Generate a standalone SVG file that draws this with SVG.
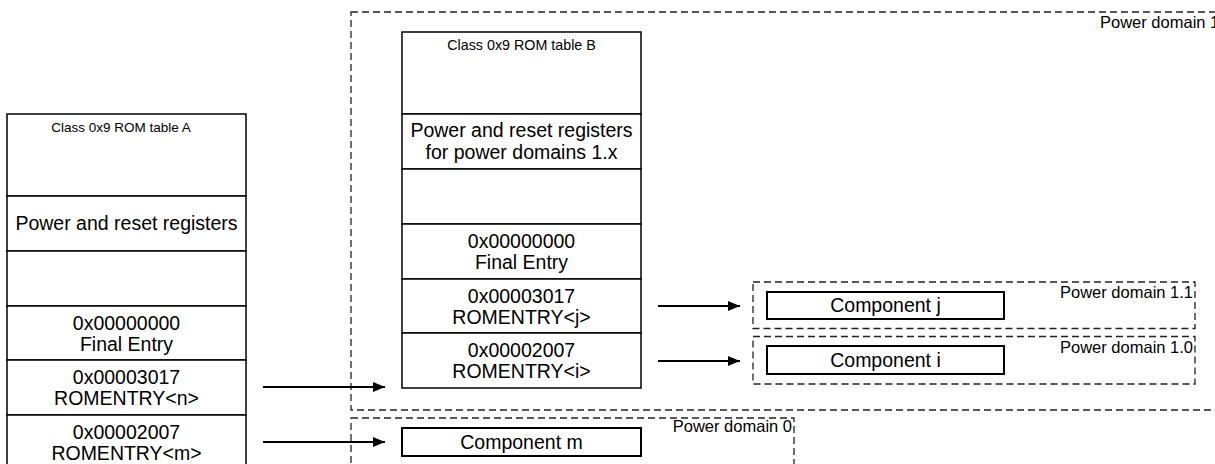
<svg xmlns="http://www.w3.org/2000/svg" width="1215" height="464" viewBox="0 0 1215 464">
<defs>
<style>
.cell{fill:#fff;stroke:#000;stroke-width:1.5}
.comp{fill:#fff;stroke:#000;stroke-width:2}
.dom{fill:none;stroke:#222;stroke-width:1.3;stroke-dasharray:7 4}
.t{font-family:"Liberation Sans",Arial,sans-serif;font-size:19.5px;fill:#000;text-anchor:middle}
.h{font-family:"Liberation Sans",Arial,sans-serif;font-size:13.5px;fill:#000;text-anchor:middle}
.d{font-family:"Liberation Sans",Arial,sans-serif;font-size:16.5px;fill:#000;text-anchor:end}
.c{stroke:#000;stroke-width:2;fill:none;marker-end:url(#ah)}
</style>
<marker id="ah" viewBox="0 0 12 10" refX="12" refY="5" markerWidth="12" markerHeight="10" markerUnits="userSpaceOnUse" orient="auto">
<path d="M0,0 L12,5 L0,10 Z" fill="#000"/>
</marker>
</defs>
<rect width="1215" height="464" fill="#fff"/>

<g id="domain1">
<rect class="dom" x="351" y="12" width="880" height="398"/>
<text class="d" x="1100" y="28" style="text-anchor:start">Power domain 1</text>
</g>
<g id="domain0">
<rect class="dom" x="351" y="418" width="443" height="80"/>
<text class="d" x="792" y="432">Power domain 0</text>
</g>
<g id="domain11">
<rect class="dom" x="753" y="282" width="442" height="46.5"/>
<text class="d" x="1193" y="298">Power domain 1.1</text>
</g>
<g id="domain10">
<rect class="dom" x="753" y="336.5" width="442" height="47.5"/>
<text class="d" x="1193" y="353">Power domain 1.0</text>
</g>

<g id="tableA">
<rect class="cell" x="7" y="114" width="239" height="82"/>
<text class="h" x="121" y="132">Class 0x9 ROM table A</text>
<rect class="cell" x="7" y="196" width="239" height="55"/>
<text class="t" x="126.5" y="230">Power and reset registers</text>
<rect class="cell" x="7" y="251" width="239" height="55"/>
<rect class="cell" x="7" y="306" width="239" height="54"/>
<text class="t" x="126.5" y="330">0x00000000</text>
<text class="t" x="126.5" y="351">Final Entry</text>
<rect class="cell" x="7" y="360" width="239" height="55"/>
<text class="t" x="126.5" y="384">0x00003017</text>
<text class="t" x="126.5" y="405">ROMENTRY&lt;n&gt;</text>
<rect class="cell" x="7" y="415" width="239" height="60"/>
<text class="t" x="126.5" y="439">0x00002007</text>
<text class="t" x="126.5" y="460">ROMENTRY&lt;m&gt;</text>
</g>

<g id="tableB">
<rect class="cell" x="402" y="32" width="239" height="82"/>
<text class="h" x="521.5" y="50" style="font-size:14.3px">Class 0x9 ROM table B</text>
<rect class="cell" x="402" y="114" width="239" height="55"/>
<text class="t" x="521.5" y="137">Power and reset registers</text>
<text class="t" x="521.5" y="159">for power domains 1.x</text>
<rect class="cell" x="402" y="169" width="239" height="55"/>
<rect class="cell" x="402" y="224" width="239" height="55"/>
<text class="t" x="521.5" y="248">0x00000000</text>
<text class="t" x="521.5" y="269">Final Entry</text>
<rect class="cell" x="402" y="279" width="239" height="54"/>
<text class="t" x="521.5" y="303">0x00003017</text>
<text class="t" x="521.5" y="324">ROMENTRY&lt;j&gt;</text>
<rect class="cell" x="402" y="333" width="239" height="55"/>
<text class="t" x="521.5" y="357">0x00002007</text>
<text class="t" x="521.5" y="378">ROMENTRY&lt;i&gt;</text>
</g>

<g id="compJ">
<rect class="comp" x="767" y="292" width="237" height="27"/>
<text class="t" x="885.5" y="312">Component j</text>
</g>
<g id="compI">
<rect class="comp" x="767" y="346" width="237" height="28"/>
<text class="t" x="885.5" y="367">Component i</text>
</g>
<g id="compM">
<rect class="comp" x="402" y="428" width="239" height="28"/>
<text class="t" x="521.5" y="449">Component m</text>
</g>

<g id="connectors">
<line class="c" x1="263" y1="387" x2="385" y2="387"/>
<line class="c" x1="263" y1="442" x2="385" y2="442"/>
<line class="c" x1="658" y1="306" x2="740" y2="306"/>
<line class="c" x1="658" y1="361" x2="740" y2="361"/>
</g>
</svg>
